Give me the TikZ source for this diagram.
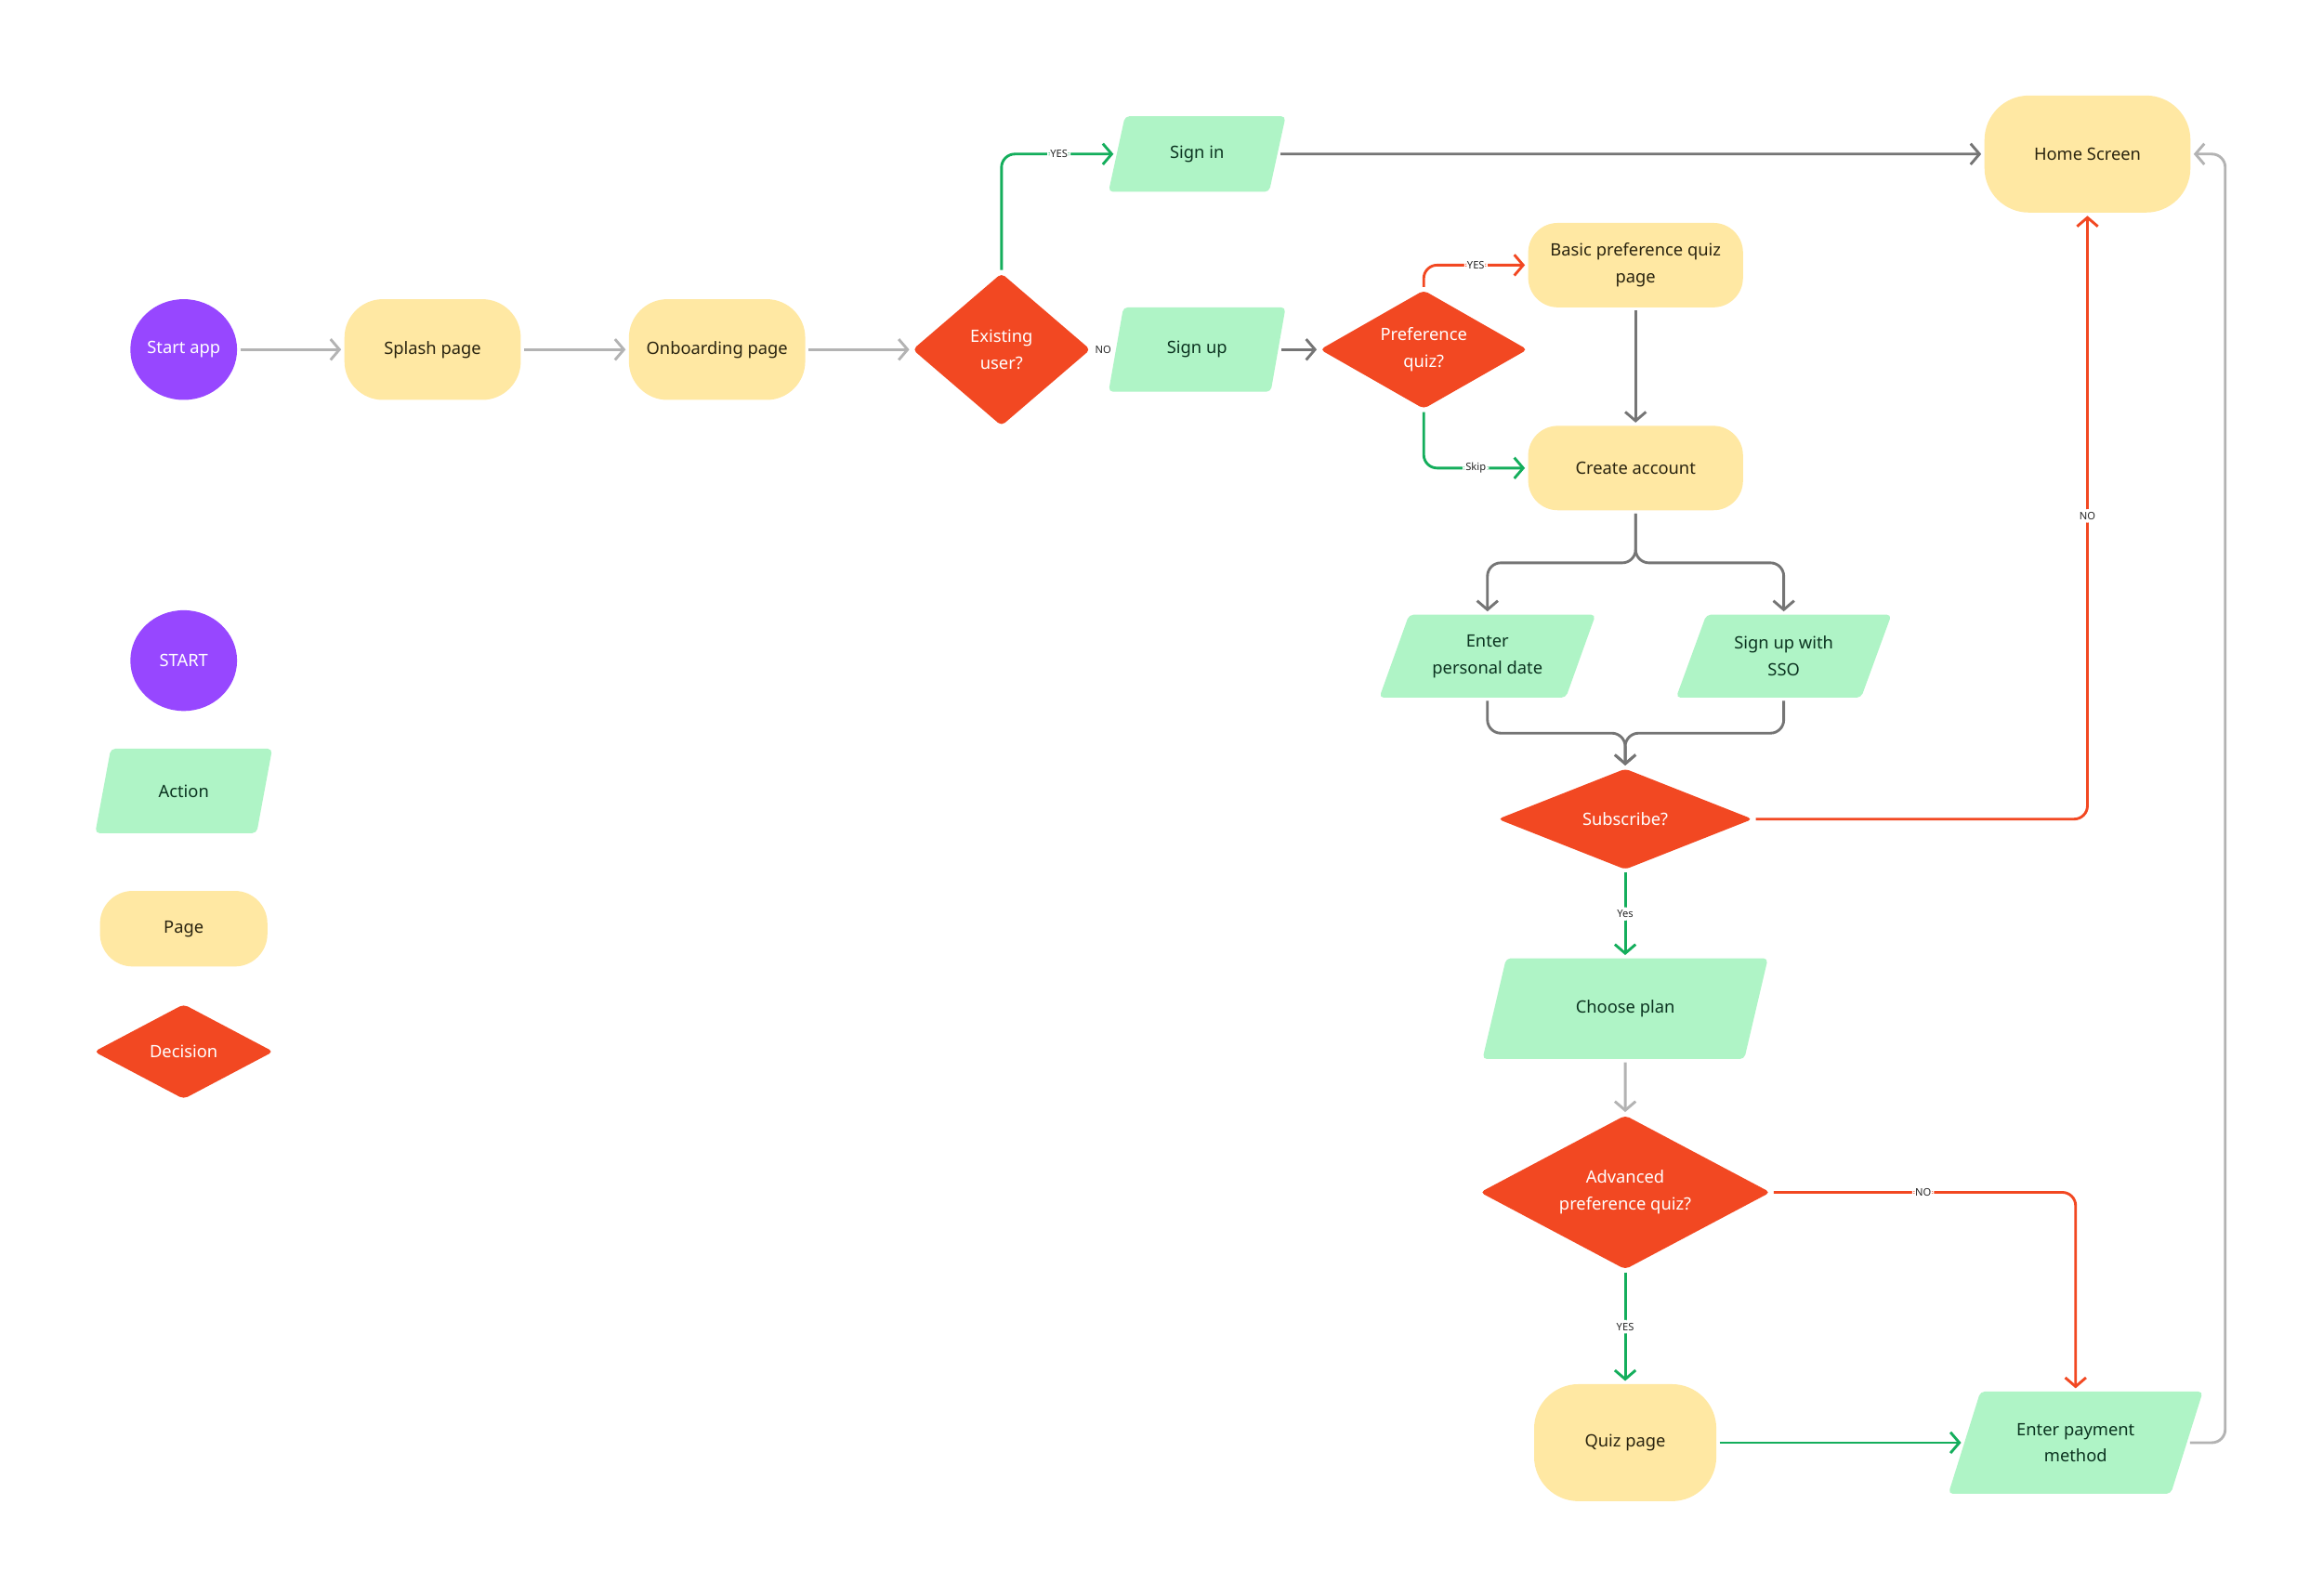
\documentclass[tikz,border=0pt]{standalone}
\usepackage{fontspec}
\setmainfont{Noto Sans}
\usetikzlibrary{shapes.geometric,arrows.meta,calc}
\definecolor{cpurple}{HTML}{9747FF}
\definecolor{cyellow}{HTML}{FFE8A3}
\definecolor{cgreenfill}{HTML}{AFF4C6}
\definecolor{cred}{HTML}{F24822}
\definecolor{cgreen}{HTML}{14AE5C}
\definecolor{cdgray}{HTML}{757575}
\definecolor{clgray}{HTML}{B3B3B3}
\definecolor{ctxtg}{HTML}{0B3320}
\definecolor{ctxty}{HTML}{2A2410}
\begin{document}
\begin{tikzpicture}[x=1pt,y=-1pt,
  every node/.style={font=\fontsize{11.5}{18}\selectfont},
  startnode/.style={ellipse, fill=cpurple, text=white, minimum width=72pt, minimum height=68pt, inner sep=0pt},
  pagenode/.style={rectangle, fill=cyellow, text=ctxty, align=center, inner sep=0pt},
  actionnode/.style={trapezium, trapezium stretches=true, fill=cgreenfill, text=ctxtg, align=center, inner sep=0pt, rounded corners=3pt},
  decisionnode/.style={diamond, fill=cred, text=white, align=center, inner sep=0pt, rounded corners=3pt},
  lbl/.style={fill=white, inner sep=2pt, text=black!85, font=\fontsize{7}{8}\selectfont},
  conn/.style={line width=1.8pt, -{Straight Barb[length=6pt,width=14pt]}, shorten >=2pt, shorten <=2pt, rounded corners=9pt},
  lg/.style={conn, draw=clgray},
  dg/.style={conn, draw=cdgray},
  gr/.style={conn, draw=cgreen},
  rd/.style={conn, draw=cred}
]
\fill[white] (0,0) rectangle (1568,1077.5);
\useasboundingbox (0,0) rectangle (1568,1077.5);

% main flow
\node[startnode] (start) at (124,236) {Start app};
\node[pagenode, minimum width=119pt, minimum height=68pt, rounded corners=26pt] (splash) at (292,236) {Splash page};
\node[pagenode, minimum width=119pt, minimum height=68pt, rounded corners=26pt] (onb) at (484,236) {Onboarding page};
\node[decisionnode, aspect=1.17, minimum width=120pt, minimum height=103pt] (exist) at (676,236) {Existing\\user?};
\node[actionnode, minimum width=120pt, minimum height=51pt, trapezium left angle=69.6, trapezium right angle=110.4] (signin) at (808,104) {Sign in};
\node[actionnode, minimum width=120pt, minimum height=57pt, trapezium left angle=70, trapezium right angle=110] (signup) at (808,236) {Sign up};
\node[decisionnode, aspect=1.75, minimum width=140pt, minimum height=80pt] (pq) at (961,236) {Preference\\quiz?};
\node[pagenode, minimum width=145pt, minimum height=57pt, rounded corners=20pt] (basic) at (1104,179) {Basic preference quiz\\page};
\node[pagenode, minimum width=145pt, minimum height=57pt, rounded corners=20pt] (create) at (1104,316) {Create account};
\node[pagenode, minimum width=139pt, minimum height=79pt, rounded corners=30pt] (home) at (1409,104) {Home Screen};
\node[actionnode, minimum width=146pt, minimum height=56pt, trapezium left angle=64, trapezium right angle=116] (epd) at (1004,443) {Enter\\personal date};
\node[actionnode, minimum width=146pt, minimum height=56pt, trapezium left angle=64, trapezium right angle=116] (sso) at (1204,443) {Sign up with\\SSO};
\node[decisionnode, aspect=2.53, minimum width=172pt, minimum height=68pt] (sub) at (1097,553) {Subscribe?};
\node[actionnode, minimum width=194pt, minimum height=68pt, trapezium left angle=60, trapezium right angle=120] (plan) at (1097,681) {Choose plan};
\node[decisionnode, aspect=1.88, minimum width=196pt, minimum height=104pt] (adv) at (1097,805) {Advanced\\preference quiz?};
\node[pagenode, minimum width=123pt, minimum height=79pt, rounded corners=30pt] (quiz) at (1097,974) {Quiz page};
\node[actionnode, minimum width=172pt, minimum height=69pt, trapezium left angle=63, trapezium right angle=117] (pay) at (1401,974) {Enter payment\\method};

% legend
\node[startnode] (lstart) at (124,446) {START};
\node[actionnode, minimum width=120pt, minimum height=57pt, trapezium left angle=67, trapezium right angle=113] (laction) at (124,534) {Action};
\node[pagenode, minimum width=113pt, minimum height=51pt, rounded corners=22pt] (lpage) at (124,627) {Page};
\node[decisionnode, aspect=1.89, minimum width=121pt, minimum height=64pt] (ldec) at (124,710) {Decision};

% helper coordinates
\coordinate (split) at (1104,380);
\coordinate (merge) at (1097,495);
\coordinate (ret) at (1502,974);

% connectors
\draw[lg] (start) -- (splash);
\draw[lg] (splash) -- (onb);
\draw[lg] (onb) -- (exist);
\draw[gr] (exist) |- node[lbl, pos=0.75] {YES} (signin);
\path (exist) -- node[lbl] {NO} (signup);
\draw[dg] (signin) -- (home);
\draw[dg] (signup) -- (pq);
\draw[rd] (pq) |- node[lbl, pos=0.75] {YES} (basic);
\draw[gr] (pq) |- node[lbl, pos=0.75] {Skip} (create);
\draw[dg] (basic) -- (create);
\draw[dg] (create) -- (split) -| (epd);
\draw[dg] (create) -- (split) -| (sso);
\draw[dg] (epd) |- (merge) -- (sub);
\draw[dg] (sso) |- (merge) -- (sub);
\draw[rd] (sub) -| node[lbl, pos=0.75] {NO} (home);
\draw[gr] (sub) -- node[lbl] {Yes} (plan);
\draw[lg] (plan) -- (adv);
\draw[rd] (adv) -| node[lbl, pos=0.25] {NO} (pay);
\draw[gr] (adv) -- node[lbl] {YES} (quiz);
\draw[gr] (quiz) -- (pay);
\draw[lg] (pay) -- (ret) |- (home);
\end{tikzpicture}
\end{document}
